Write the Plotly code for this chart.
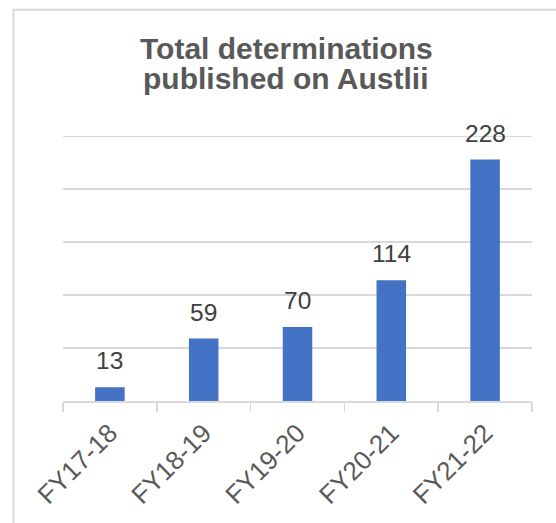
import plotly.graph_objects as go

categories = ["FY17-18", "FY18-19", "FY19-20", "FY20-21", "FY21-22"]
values = [13, 59, 70, 114, 228]
title_lines = ["Total determinations", "published on Austlii"]

W, H = 556, 523
L, R, T, B = 62.7, 23.7, 131.4, 122.3
pw, ph = W - L - R, H - T - B
FONT = "Liberation Sans, Arial"

fig = go.Figure(go.Bar(
    x=categories, y=values,
    marker=dict(color="#4472C4", line=dict(width=0)),
    width=0.315,
    hoverinfo="skip",
))

annotations = []
for c, v in zip(categories, values):
    annotations.append(dict(
        x=c, y=v, xref="x", yref="y", text=str(v), showarrow=False,
        yanchor="bottom", yshift=11,
        font=dict(size=24.5, color="#404040", family=FONT),
    ))

title_x = (286 - L) / pw
for i, line in enumerate(title_lines):
    ypix = 49 + 30 * i
    annotations.append(dict(
        x=title_x, xref="paper", y=(H - ypix - B) / ph, yref="paper",
        text="<b>" + line + "</b>", showarrow=False,
        xanchor="center", yanchor="middle",
        font=dict(size=30, color="#595959", family=FONT),
    ))

fig.update_layout(
    width=W, height=H,
    margin=dict(l=L, r=R, t=T, b=B, autoexpand=False),
    paper_bgcolor="white", plot_bgcolor="white",
    showlegend=False,
    font=dict(family=FONT, color="#595959"),
    xaxis=dict(
        type="category", automargin=False,
        showline=True, linecolor="#d9d9d9", linewidth=1.5,
        ticks="outside", tickson="boundaries", ticklen=9, tickcolor="#d9d9d9",
        tickwidth=1.5,
        tickangle=-45,
        ticklabelstandoff=5,
        tickfont=dict(size=26, color="#595959", family=FONT),
        showgrid=False,
    ),
    yaxis=dict(
        range=[0, 255], tick0=0, dtick=50, automargin=False,
        showticklabels=False,
        showgrid=True, gridcolor="#d9d9d9", gridwidth=1.5,
        zeroline=False, showline=False, ticks="",
    ),
    annotations=annotations,
    shapes=[dict(
        type="rect", xref="paper", yref="paper",
        x0=(13 - L) / pw, x1=(W + 20 - L) / pw,
        y0=(-20 - B) / ph, y1=(H - 10.5 - B) / ph,
        line=dict(color="#d9d9d9", width=2), fillcolor="rgba(0,0,0,0)",
        layer="below",
    )],
)

fig.write_html(
    "out.html",
    config={"displayModeBar": False, "staticPlot": True},
    post_script="document.body.style.margin='0';document.body.style.padding='0';",
)
